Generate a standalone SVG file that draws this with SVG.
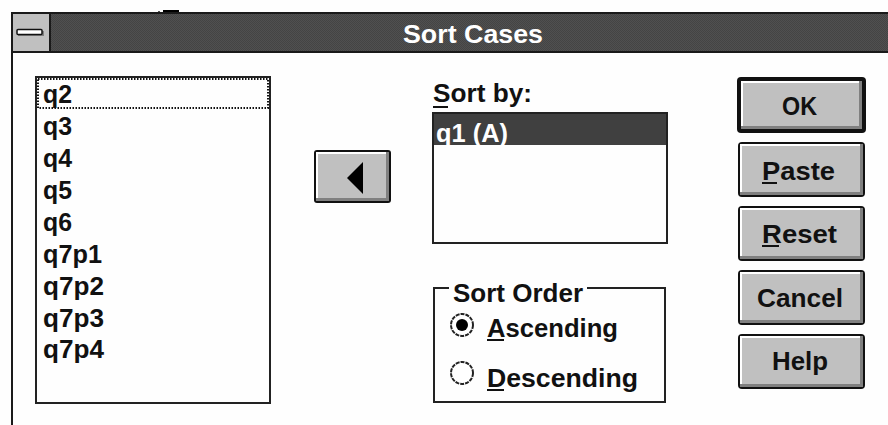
<svg xmlns="http://www.w3.org/2000/svg" width="888" height="425" viewBox="0 0 888 425">
<defs>
<style>
.t{font-family:"Liberation Sans",Arial,sans-serif;font-weight:bold;font-size:25px;fill:#111}
.w{fill:#fff}
.face{fill:#c0c0c0}
.hl{fill:#fff}
.sh{fill:#808080}
.ul{fill:#111}
</style>
<pattern id="dith" width="2" height="2" patternUnits="userSpaceOnUse">
<rect width="2" height="2" fill="#505050"/>
<rect width="1" height="1" fill="#444"/>
<rect x="1" y="1" width="1" height="1" fill="#444"/>
</pattern>
</defs>
<rect width="888" height="425" fill="#fefefe"/>
<rect x="163" y="10" width="16" height="3" fill="#000"/>
<rect x="158" y="11" width="2" height="2" fill="#555"/>
<g id="window">
<rect x="11" y="12" width="877" height="41" fill="#1a1a1a"/>
<rect x="12" y="14" width="876" height="37" fill="url(#dith)"/>
<rect x="11" y="12" width="2" height="413" fill="#1a1a1a"/>
<rect x="13" y="14" width="36" height="37" fill="#c0c0c0"/>
<rect x="49" y="14" width="2" height="37" fill="#1a1a1a"/>
<rect x="18" y="31" width="26" height="5" fill="#555" opacity="0.6"/>
<rect x="17" y="29.5" width="25" height="5" rx="1" fill="#fff" stroke="#111" stroke-width="1.5"/>
<text class="t w" x="403" y="43" font-size="27" textLength="140" lengthAdjust="spacingAndGlyphs">Sort Cases</text>
</g>
<g id="varlist">
<rect x="36" y="77" width="234" height="326" fill="#fefefe" stroke="#222" stroke-width="2"/>
<rect x="38" y="79" width="230" height="29" fill="none" stroke="#111" stroke-width="2" stroke-dasharray="1.5 1.5"/>
<text class="t" x="43" y="103" textLength="29" lengthAdjust="spacingAndGlyphs">q2</text>
<text class="t" x="43" y="135" textLength="29" lengthAdjust="spacingAndGlyphs">q3</text>
<text class="t" x="43" y="167" textLength="29" lengthAdjust="spacingAndGlyphs">q4</text>
<text class="t" x="43" y="199" textLength="29" lengthAdjust="spacingAndGlyphs">q5</text>
<text class="t" x="43" y="231" textLength="29" lengthAdjust="spacingAndGlyphs">q6</text>
<text class="t" x="43" y="263" textLength="59" lengthAdjust="spacingAndGlyphs">q7p1</text>
<text class="t" x="43" y="295" textLength="61" lengthAdjust="spacingAndGlyphs">q7p2</text>
<text class="t" x="43" y="327" textLength="61" lengthAdjust="spacingAndGlyphs">q7p3</text>
<text class="t" x="43" y="358" textLength="61" lengthAdjust="spacingAndGlyphs">q7p4</text>
</g>
<g id="arrow-button">
<rect x="314" y="150" width="77" height="53" rx="3" fill="#111"/>
<rect x="316" y="152" width="73" height="49" class="sh"/>
<rect x="316" y="152" width="70" height="46" class="hl"/>
<rect x="318" y="154" width="68" height="44" class="face"/>
<polygon points="347,178 363,162 363,194" fill="#000"/>
</g>
<g id="sortby">
<text class="t" x="433" y="102" textLength="99" lengthAdjust="spacingAndGlyphs">Sort by:</text>
<rect x="433" y="106" width="15" height="2" class="ul"/>
<rect x="433" y="113" width="234" height="130" fill="#fefefe" stroke="#222" stroke-width="2"/>
<rect x="434" y="114" width="232" height="31" fill="#404040"/>
<text class="t w" x="436" y="142" textLength="72" lengthAdjust="spacingAndGlyphs">q1 (A)</text>
</g>
<g id="sortorder">
<path d="M449,288 H434 V402 H665 V288 H587" fill="none" stroke="#222" stroke-width="2"/>
<text class="t" x="453" y="302" textLength="130" lengthAdjust="spacingAndGlyphs">Sort Order</text>
<circle cx="462" cy="325" r="11" fill="#fff" stroke="#222" stroke-width="2" stroke-dasharray="4 1"/>
<circle cx="462" cy="325" r="6" fill="#000"/>
<text class="t" x="487" y="337" textLength="131" lengthAdjust="spacingAndGlyphs">Ascending</text>
<rect x="487" y="339" width="17" height="2" class="ul"/>
<circle cx="462" cy="373" r="11" fill="#fff" stroke="#222" stroke-width="2" stroke-dasharray="4 1"/>
<text class="t" x="487" y="387" textLength="151" lengthAdjust="spacingAndGlyphs">Descending</text>
<rect x="487" y="389" width="17" height="2" class="ul"/>
</g>
<g id="btn-ok">
<rect x="737" y="77" width="129" height="56" rx="4" fill="#111"/>
<rect x="741" y="81" width="121" height="48" class="sh"/>
<rect x="741" y="81" width="118" height="45" class="hl"/>
<rect x="743" y="83" width="116" height="43" class="face"/>
<text class="t" x="782" y="115" textLength="35" lengthAdjust="spacingAndGlyphs">OK</text>
</g>
<g id="btn-paste">
<rect x="738" y="142" width="127" height="55" rx="4" fill="#111"/>
<rect x="740" y="144" width="123" height="51" class="sh"/>
<rect x="740" y="144" width="120" height="48" class="hl"/>
<rect x="742" y="146" width="118" height="46" class="face"/>
<text class="t" x="762" y="180" textLength="73" lengthAdjust="spacingAndGlyphs">Paste</text>
<rect x="762" y="182" width="15" height="2" class="ul"/>
</g>
<g id="btn-reset">
<rect x="738" y="206" width="127" height="55" rx="4" fill="#111"/>
<rect x="740" y="208" width="123" height="51" class="sh"/>
<rect x="740" y="208" width="120" height="48" class="hl"/>
<rect x="742" y="210" width="118" height="46" class="face"/>
<text class="t" x="762" y="243" textLength="75" lengthAdjust="spacingAndGlyphs">Reset</text>
<rect x="762" y="245" width="17" height="2" class="ul"/>
</g>
<g id="btn-cancel">
<rect x="738" y="270" width="127" height="55" rx="4" fill="#111"/>
<rect x="740" y="272" width="123" height="51" class="sh"/>
<rect x="740" y="272" width="120" height="48" class="hl"/>
<rect x="742" y="274" width="118" height="46" class="face"/>
<text class="t" x="757" y="307" textLength="86" lengthAdjust="spacingAndGlyphs">Cancel</text>
</g>
<g id="btn-help">
<rect x="738" y="334" width="127" height="55" rx="4" fill="#111"/>
<rect x="740" y="336" width="123" height="51" class="sh"/>
<rect x="740" y="336" width="120" height="48" class="hl"/>
<rect x="742" y="338" width="118" height="46" class="face"/>
<text class="t" x="772" y="370" textLength="56" lengthAdjust="spacingAndGlyphs">Help</text>
</g>
<g id="connectors"></g>
</svg>
